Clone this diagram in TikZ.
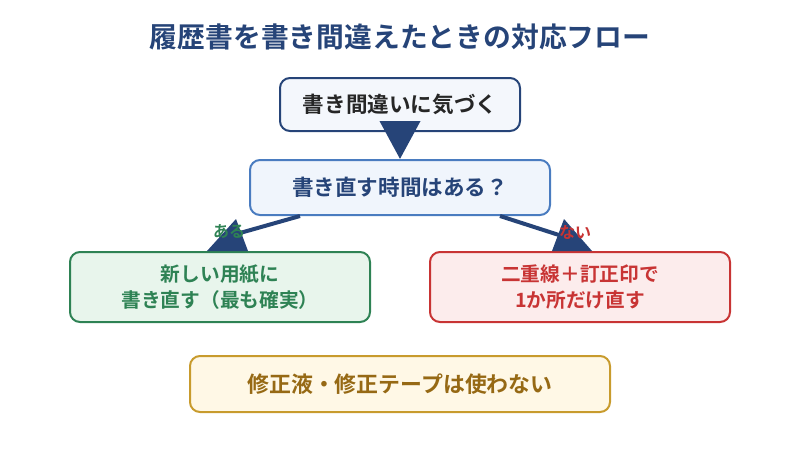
\documentclass[tikz,border=0pt]{standalone}
\usepackage{fontspec}
\setmainfont{Noto Sans CJK JP}[BoldFont={Noto Sans CJK JP Bold}]
\usetikzlibrary{arrows.meta,calc}
\definecolor{flowblue}{RGB}{38,68,120}
\definecolor{qblue}{RGB}{74,124,192}
\definecolor{okgreen}{RGB}{46,130,84}
\definecolor{ngred}{RGB}{200,52,52}
\definecolor{warnyel}{RGB}{200,155,45}
\definecolor{warntext}{RGB}{150,105,20}
\definecolor{noticefill}{RGB}{244,247,252}
\definecolor{askfill}{RGB}{240,245,252}
\definecolor{redofill}{RGB}{232,245,236}
\definecolor{fixfill}{RGB}{252,236,236}
\definecolor{neverfill}{RGB}{255,248,230}

\begin{document}
\begin{tikzpicture}[x=1pt,y=-1pt,
  box/.style={draw,line width=2pt,rounded corners=10pt,align=center,font=\bfseries,inner sep=0pt},
  flow/.style={flowblue,line width=4pt}]
  \useasboundingbox (0,0) rectangle (800,450);
  \node[flowblue,font=\bfseries\fontsize{27.8}{32}\selectfont] (title) at (400,37) {履歴書を書き間違えたときの対応フロー};
  \node[box,draw=flowblue,fill=noticefill,text=black!85,minimum width=240pt,minimum height=53pt,font=\bfseries\fontsize{21.6}{26}\selectfont] (notice) at (400,104.5) {書き間違いに気づく};
  \node[box,draw=qblue,fill=askfill,text=flowblue,minimum width=300pt,minimum height=55pt,font=\bfseries\fontsize{21.6}{26}\selectfont] (ask) at (400,187.5) {書き直す時間はある？};
  \node[box,draw=okgreen,fill=redofill,text=okgreen,minimum width=300pt,minimum height=70pt,font=\bfseries\fontsize{19.7}{26}\selectfont] (redo) at (220,287) {新しい用紙に\\書き直す（最も確実）};
  \node[box,draw=ngred,fill=fixfill,text=ngred,minimum width=300pt,minimum height=70pt,font=\bfseries\fontsize{19.7}{26}\selectfont] (fix) at (580,287) {二重線＋訂正印で\\1か所だけ直す};
  \node[box,draw=warnyel,fill=neverfill,text=warntext,minimum width=420pt,minimum height=56pt,font=\bfseries\fontsize{21.9}{26}\selectfont] (never) at (400,384) {修正液・修正テープは使わない};
  % main arrow
  \draw[flow,-{Triangle[width=40pt,length=38pt]}] (notice.south) -- (ask.north);
  % branches
  \coordinate (yesA) at ($(ask.south)+(-100,0)$);
  \coordinate (yesB) at ($(redo.north)+(20,-18)$);
  \draw[flow] (yesA) -- (yesB);
  \fill[flowblue] ($(redo.north)+(-13,0)$) -- ($(redo.north)+(28,0)$) -- ($(redo.north)+(16,-32)$) -- cycle;
  \coordinate (noA) at ($(ask.south)+(100,0)$);
  \coordinate (noB) at ($(fix.north)+(-18,-15)$);
  \draw[flow] (noA) -- (noB);
  \fill[flowblue] ($(fix.north)+(-28,0)$) -- ($(fix.north)+(12,0)$) -- ($(fix.north)+(-16,-32)$) -- cycle;
  \node[okgreen,font=\bfseries\fontsize{16}{18}\selectfont] (yes) at (229,232) {ある};
  \node[ngred,font=\bfseries\fontsize{16}{18}\selectfont] (no) at (575,232) {ない};
\end{tikzpicture}
\end{document}
